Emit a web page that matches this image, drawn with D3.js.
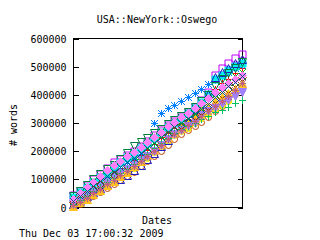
<!DOCTYPE html>
<html lang="en">
<head>
<meta charset="utf-8">
<title>USA::NewYork::Oswego</title>
<script src="https://d3js.org/d3.v7.min.js"></script>
<style>
  body { margin: 0; background: white; }
  svg text { font-family: "DejaVu Sans Mono", monospace; font-size: 10px; fill: black; }
</style>
</head>
<body>
<svg width="320" height="240"></svg>
<script>
  // sample days (x has no tick labels in the original, just "Dates")
  var days = [0,4,8,12,16,20,24,28,32,36,40,44,48,52,56,60,64,68,72,76,80,84,88,92,96,100];

  // word counts per series, in thousands
  var w01 = [15,32,50,70,86,104,120,138,150,168,186,204,225,248,270,290,305,318,335,358,385,420,440,455,475,495];
  var w02 = [25,42,62,82,100,118,135,150,165,180,196,212,232,252,272,288,302,316,334,352,372,400,425,445,465,480];
  var w03 = [30,45,62,80,98,115,132,148,162,178,195,225,300,335,350,362,378,392,405,420,435,450,465,480,495,505];
  var w04 = [42,58,78,98,118,138,158,172,186,200,216,234,254,272,290,306,320,336,356,380,410,470,495,512,528,542];
  var w05 = [35,52,70,90,108,126,145,160,176,192,208,226,246,266,285,300,316,332,350,372,400,455,470,485,500,512];
  var w06 = [2,12,24,38,52,66,80,95,110,126,145,162,182,200,220,240,258,272,288,302,318,340,360,380,400,420];
  var w07 = [8,20,35,50,65,80,95,110,125,140,158,175,195,215,235,255,270,282,300,315,330,348,362,378,400,430];
  var w08 = [10,22,38,54,68,82,94,100,115,132,150,170,192,215,238,262,285,310,335,365,400,460,480,495,510,525];
  var w09 = [5,16,30,46,62,78,94,110,126,144,164,184,204,224,244,262,280,298,316,336,355,375,390,405,420,440];
  var w10 = [38,58,78,98,116,134,150,170,192,215,232,245,262,278,294,308,322,338,356,376,398,430,455,475,495,515];
  var w11 = [12,26,42,58,74,90,106,120,134,150,166,182,200,220,240,258,272,286,300,325,340,352,365,380,395,410];
  var w12 = [18,32,48,64,80,96,112,128,144,160,176,194,214,234,254,272,290,306,322,340,360,385,400,420,440,460];
  var w13 = [30,50,70,90,110,130,148,164,180,196,214,232,250,268,286,302,318,334,350,368,388,410,425,440,455,470];
  var w14 = [10,24,40,56,72,88,104,120,136,152,170,188,208,228,246,262,276,288,300,312,324,336,346,356,368,380];
  var w15 = [22,38,56,74,92,110,126,142,158,174,190,208,228,248,266,284,298,314,330,348,366,392,410,428,445,465];
  var w16 = [6,18,32,48,64,80,96,112,128,144,162,180,200,220,240,258,274,290,306,322,340,360,378,395,415,440];

  var yTicks = [0,100000,200000,300000,400000,500000,600000];

  var allSeries = [w01,w02,w03,w04,w05,w06,w07,w08,w09,w10,w11,w12,w13,w14,w15,w16];

  // gnuplot png line type colours, point type cycles 1..13
  var colors = ["#ff0000","#00c000","#0080ff","#c000ff","#00eeee","#c04000","#eeee00","#2020c0",
                "#ffc020","#008040","#a080ff","#804000","#ff80ff","#00c060","#006080","#c06080"];

  var svg = d3.select("svg"),
      plotL = 73, plotR = 242, plotT = 38, plotB = 207;

  var x = d3.scaleLinear().domain([0, 100]).range([plotL, plotR]);
  var y = d3.scaleLinear().domain([0, 600000]).range([plotB, plotT]);

  // point shapes, s = half size
  function symbol(pt) {
    var s = 3.5, t = 4;
    switch (pt) {
      case 1: return {d: "M" + (-s) + ",0H" + s + "M0," + (-s) + "V" + s, fill: false};
      case 2: return {d: "M" + (-s) + "," + (-s) + "L" + s + "," + s + "M" + (-s) + "," + s + "L" + s + "," + (-s), fill: false};
      case 3: return {d: "M" + (-s) + ",0H" + s + "M0," + (-s) + "V" + s +
                         "M" + (-s) + "," + (-s) + "L" + s + "," + s + "M" + (-s) + "," + s + "L" + s + "," + (-s), fill: false};
      case 4: return {d: "M" + (-s) + "," + (-s) + "H" + s + "V" + s + "H" + (-s) + "Z", fill: false};
      case 5: return {d: "M" + (-s) + "," + (-s) + "H" + s + "V" + s + "H" + (-s) + "Z", fill: true};
      case 6: return {circle: true, fill: false};
      case 7: return {circle: true, fill: true};
      case 8: return {d: "M0," + (-t) + "L" + t + "," + t + "H" + (-t) + "Z", fill: false};
      case 9: return {d: "M0," + (-t) + "L" + t + "," + t + "H" + (-t) + "Z", fill: true};
      case 10: return {d: "M0," + t + "L" + t + "," + (-t) + "H" + (-t) + "Z", fill: false};
      case 11: return {d: "M0," + t + "L" + t + "," + (-t) + "H" + (-t) + "Z", fill: true};
      case 12: return {d: "M0," + (-t) + "L" + t + ",0L0," + t + "L" + (-t) + ",0Z", fill: false};
      default: return {d: "M0," + (-t) + "L" + t + ",0L0," + t + "L" + (-t) + ",0Z", fill: true};
    }
  }

  // frame
  svg.append("rect")
    .attr("x", plotL + 0.5).attr("y", plotT + 0.5)
    .attr("width", plotR - plotL).attr("height", plotB - plotT)
    .attr("fill", "none").attr("stroke", "black")
    .attr("shape-rendering", "crispEdges");

  // y axis, ticks pointing inward
  var yAxis = svg.append("g")
    .attr("transform", "translate(" + (plotL + 0.5) + ",0.5)")
    .call(d3.axisLeft(y).tickValues(yTicks).tickSize(-5).tickPadding(7).tickFormat(d3.format("d")));
  svg.append("g")
    .attr("transform", "translate(" + (plotR + 0.5) + ",0.5)")
    .call(d3.axisRight(y).tickValues(yTicks).tickSize(-5).tickFormat(""));
  svg.selectAll(".domain").remove();
  svg.selectAll(".tick line").attr("stroke", "black").attr("shape-rendering", "crispEdges");
  yAxis.selectAll("text")
    .attr("font-family", "DejaVu Sans Mono, monospace").attr("font-size", 10)
    .attr("fill", "black").attr("dy", "0.35em");

  // series
  allSeries.forEach(function(vals, i) {
    var col = colors[i % colors.length],
        sym = symbol((i % 13) + 1);
    var pts = svg.append("g")
      .selectAll("g")
      .data(days.map(function(d, j) { return {day: d, words: vals[j] * 1000}; }))
      .enter().append("g")
        .attr("transform", d => "translate(" + (Math.round(x(d.day)) + 0.5) + "," + (Math.round(y(d.words)) + 0.5) + ")");
    var mark = sym.circle ? pts.append("circle").attr("r", 3) : pts.append("path").attr("d", sym.d);
    mark.attr("fill", sym.fill ? col : "none")
        .attr("stroke", col)
        .attr("stroke-width", 1);
  });

  // labels
  svg.append("text").attr("x", 157).attr("y", 23).attr("text-anchor", "middle").text("USA::NewYork::Oswego");
  svg.append("text").attr("x", 157).attr("y", 224).attr("text-anchor", "middle").text("Dates");
  svg.append("text").attr("transform", "translate(17,125) rotate(-90)").attr("text-anchor", "middle").text("# words");
  svg.append("text").attr("x", 19).attr("y", 237).text("Thu Dec 03 17:00:32 2009");
</script>
</body>
</html>
